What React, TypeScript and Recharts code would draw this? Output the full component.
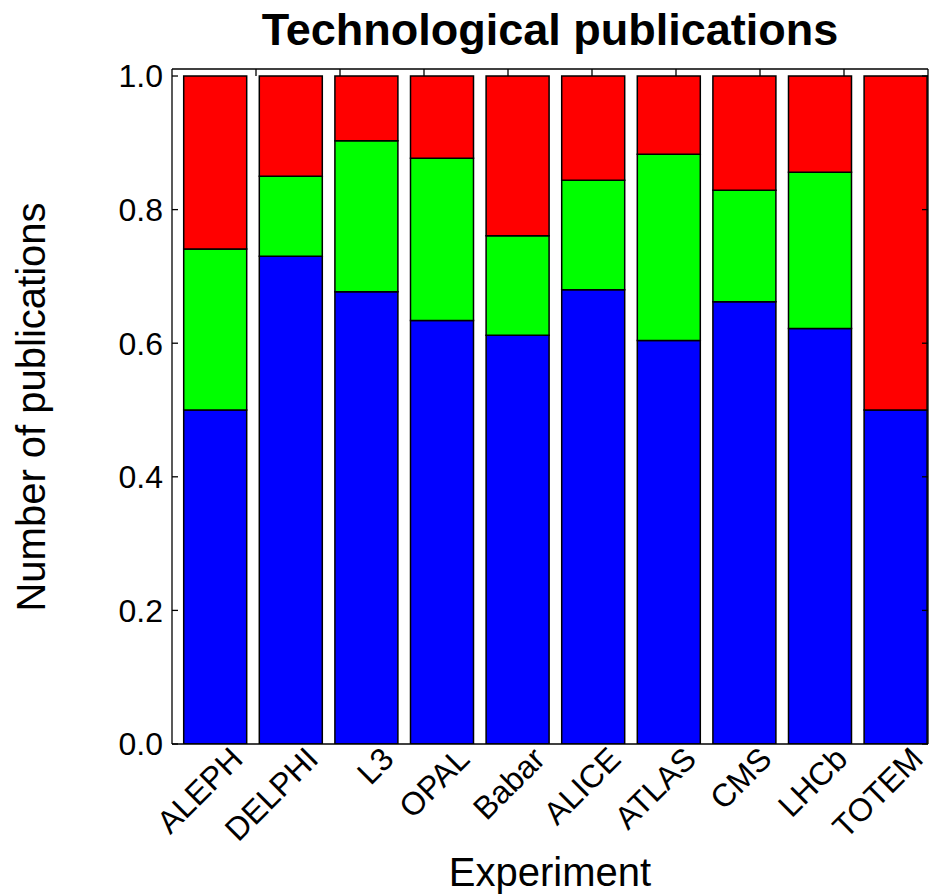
import React from 'react';
import { BarChart, Bar, XAxis, YAxis } from 'recharts';

const experiments = ['ALEPH', 'DELPHI', 'L3', 'OPAL', 'Babar', 'ALICE', 'ATLAS', 'CMS', 'LHCb', 'TOTEM'];
const blueShare = [0.5, 0.73, 0.677, 0.634, 0.612, 0.68, 0.604, 0.662, 0.622, 0.5];
const greenShare = [0.241, 0.12, 0.226, 0.243, 0.149, 0.164, 0.279, 0.167, 0.234, 0.0];
const redShare = [0.259, 0.15, 0.097, 0.123, 0.239, 0.156, 0.117, 0.171, 0.144, 0.5];
const yTicks = [0, 0.2, 0.4, 0.6, 0.8, 1.0];
const topTicks = [1, 2, 3, 4, 5, 6, 7, 8, 9, 10, 11];

const data = experiments.map((name, i) => ({
  name,
  blue: blueShare[i],
  green: greenShare[i],
  red: redShare[i],
}));

const FONT = '"Liberation Sans", Arial, Helvetica, sans-serif';

const RotatedTick = (props: any) => {
  const { x, y, payload } = props;
  const px = x + 29;
  const py = y + 17;
  return (
    <text
      x={px}
      y={py}
      textAnchor="end"
      fontSize={32}
      fontFamily={FONT}
      fill="#000"
      transform={`rotate(-45 ${px} ${py})`}
    >
      {payload.value}
    </text>
  );
};

export default function App() {
  return (
    <div style={{ position: 'absolute', left: 0, top: 0, width: 930, height: 895, overflow: 'hidden', background: '#fff' }}>
      <BarChart
        width={930}
        height={895}
        data={data}
        margin={{ top: 68, right: 1, bottom: 51, left: 112 }}
        barSize={63}
      >
        <XAxis
          dataKey="name"
          interval={0}
          height={100}
          padding={{ left: 5.7, right: -5.7 }}
          axisLine={{ stroke: '#000', strokeWidth: 1.3 }}
          tickLine={false}
          tickSize={0}
          tickMargin={0}
          tick={<RotatedTick />}
        />
        <XAxis
          xAxisId="top"
          orientation="top"
          type="number"
          domain={[0, 12]}
          ticks={topTicks}
          allowDataOverflow
          height={1}
          axisLine={{ stroke: '#000', strokeWidth: 1.3 }}
          tickLine={{ stroke: '#000', strokeWidth: 1.3 }}
          tickSize={-7}
          tickFormatter={() => ''}
        />
        <YAxis
          yAxisId="left"
          width={60}
          domain={[0, 1.0105]}
          ticks={yTicks}
          allowDataOverflow
          axisLine={{ stroke: '#000', strokeWidth: 1.3 }}
          tickLine={{ stroke: '#000', strokeWidth: 1.3 }}
          tickSize={-6}
          tickMargin={15}
          tickFormatter={(v: number) => v.toFixed(1)}
          tick={{ fontSize: 32, fontFamily: FONT, fill: '#000' }}
        />
        <YAxis
          yAxisId="right"
          orientation="right"
          width={1}
          domain={[0, 1.0105]}
          ticks={yTicks}
          allowDataOverflow
          axisLine={{ stroke: '#000', strokeWidth: 1.3 }}
          tickLine={{ stroke: '#000', strokeWidth: 1.3 }}
          tickSize={-6}
          tickFormatter={() => ''}
        />
        <Bar yAxisId="left" dataKey="blue" stackId="s" fill="#0000ff" stroke="#000" strokeWidth={1.5} isAnimationActive={false} />
        <Bar yAxisId="left" dataKey="green" stackId="s" fill="#00ff00" stroke="#000" strokeWidth={1.5} isAnimationActive={false} />
        <Bar yAxisId="left" dataKey="red" stackId="s" fill="#ff0000" stroke="#000" strokeWidth={1.5} isAnimationActive={false} />
      </BarChart>
      <svg
        width={930}
        height={895}
        style={{ position: 'absolute', left: 0, top: 0, pointerEvents: 'none' }}
      >
        <text x={550} y={45} textAnchor="middle" fontSize={45} fontWeight="bold" fontFamily={FONT} fill="#000">
          Technological publications
        </text>
        <text x={550} y={886} textAnchor="middle" fontSize={40} fontFamily={FONT} fill="#000">
          Experiment
        </text>
        <text
          x={45}
          y={407}
          textAnchor="middle"
          fontSize={40}
          fontFamily={FONT}
          fill="#000"
          transform="rotate(-90 45 407)"
        >
          Number of publications
        </text>
      </svg>
    </div>
  );
}
